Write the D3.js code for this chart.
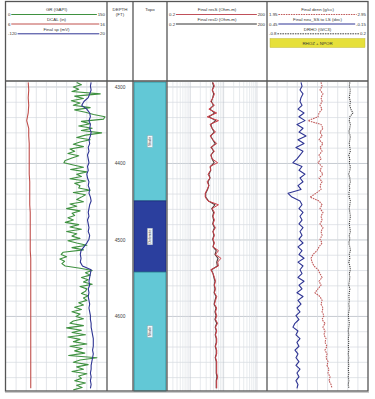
<!DOCTYPE html>
<html><head><meta charset="utf-8">
<script src="https://cdn.jsdelivr.net/npm/d3@7/dist/d3.min.js"></script>
<style>body{margin:0;background:#fff}svg{display:block;font-family:"Liberation Sans",Arial,sans-serif}</style>
</head><body><svg id="c" width="375" height="399"></svg>
<script>
// ---------- data ----------
const grDepth = d3.range(4294, 4697, 3);
const grValues = [105,112,100,108,98,140,102,115,97,110,
 100,125,102,118,130,147,145,112,125,108,
 128,112,142,118,105,125,110,100,115,95,
 102,92,108,98,88,86,100,115,96,120,
 105,112,95,118,102,110,108,125,100,118,
 112,105,115,95,105,90,110,98,102,92,
 100,88,108,95,112,90,105,98,110,92,
 105,120,98,115,85,82,90,80,87,83,
 88,110,128,118,125,112,122,115,128,110,
 120,118,112,122,115,120,108,115,102,112,
 98,110,104,115,100,95,115,90,112,98,
 118,92,110,100,120,95,113,102,117,93,
 135,110,100,122,105,115,98,120,108,112,
 102,118,105,113,100];
const logDepth = d3.range(4294, 4697, 5);
const spValues = [-2,-3,-2,-4,-6,-12,-15,-8,-4,-3,
 -5,-3,-4,-2,-3,-5,-4,-6,-5,-7,
 -6,-5,-7,-6,-8,-7,-5,-6,-4,-5,
 -3,-2,-4,-5,-6,-5,-7,-6,-5,-6,
 -4,-5,-8,-12,-16,-17,-16,-17,-14,-2,
 -3,-4,-5,-4,-6,-5,-6,-5,-4,-5,
 -4,-3,-3,-2,-2,-1,0,1,1,1,
 0,1,0,-1,-2,-2,-3,-2,-3,-2,
 -3];
const dcalDepth = d3.range(4294, 4697, 10);
const dcalValues = [8.2,8.25,8.2,8.25,8.2,8.05,8.25,8.25,8.3,8.3,
 8.3,8.3,8.3,8.35,8.35,8.35,8.35,8.4,8.4,8.4,
 8.4,8.4,8.4,8.45,8.45,8.45,8.45,8.45,8.45,8.45,
 8.45,8.45,8.45,8.45,8.45,8.45,8.45,8.45,8.45,8.45,8.45];
const resSValues = [4.8,5.3,4.5,5.3,4.8,4.1,5.3,3.6,6.2,3.2,
 7.0,3.9,4.5,5.7,3.9,4.8,6.2,4.1,5.3,4.1,
 4.5,6.6,3.9,4.1,3.4,3.9,3.2,3.6,3.2,2.8,
 2.8,3.4,7.0,4.5,5.3,4.8,5.3,4.8,5.7,4.8,
 5.3,4.8,5.3,4.8,7.0,5.7,8.3,6.6,7.0,4.1,
 4.8,5.3,5.7,5.3,5.7,5.3,6.2,5.7,5.3,6.2,
 5.7,6.2,5.7,6.6,5.7,6.2,5.7,6.2,6.2,5.7,
 6.2,6.2,5.7,6.2,6.2,6.2,6.2,6.6,6.2,6.2,
 6.2];
const resDValues = [4.6,5.0,4.6,5.0,4.7,4.3,4.9,3.9,5.4,3.6,
 5.8,4.1,4.5,5.2,4.1,4.7,5.6,4.3,5.0,4.2,
 4.5,5.2,4.0,4.1,3.6,3.9,3.4,3.6,3.3,2.9,
 2.9,3.5,5.5,4.4,5.0,4.7,5.0,4.7,5.3,4.8,
 5.1,4.7,5.1,4.8,6.0,5.5,6.8,6.2,6.5,4.3,
 4.8,5.1,5.5,5.2,5.5,5.2,5.9,5.5,5.2,5.9,
 5.5,5.9,5.5,6.2,5.6,6.0,5.6,6.0,6.0,5.6,
 6.0,6.0,5.6,6.0,6.0,6.0,6.0,6.3,6.0,6.0,
 6.0];
const denValues = [2.485,2.495,2.475,2.504,2.485,2.495,2.475,2.495,2.465,2.455,
 2.356,2.485,2.504,2.475,2.495,2.465,2.504,2.475,2.495,2.465,
 2.485,2.455,2.495,2.475,2.504,2.465,2.495,2.475,2.485,2.435,
 2.376,2.465,2.495,2.475,2.504,2.485,2.495,2.475,2.504,2.485,
 2.495,2.475,2.495,2.465,2.445,2.405,2.386,2.396,2.415,2.455,
 2.475,2.495,2.465,2.485,2.455,2.425,2.475,2.495,2.485,2.504,
 2.495,2.514,2.495,2.524,2.504,2.524,2.514,2.534,2.524,2.544,
 2.524,2.544,2.534,2.554,2.544,2.564,2.554,2.574,2.564,2.584,
 2.594];
const neuValues = [0.248,0.242,0.254,0.236,0.248,0.254,0.242,0.266,0.230,0.260,
 0.224,0.272,0.236,0.260,0.218,0.266,0.230,0.278,0.236,0.254,
 0.272,0.296,0.242,0.260,0.224,0.254,0.236,0.266,0.248,0.325,
 0.302,0.254,0.242,0.260,0.236,0.254,0.242,0.260,0.236,0.254,
 0.242,0.260,0.236,0.266,0.242,0.260,0.230,0.266,0.236,0.254,
 0.242,0.266,0.230,0.260,0.242,0.272,0.236,0.266,0.248,0.272,
 0.254,0.278,0.260,0.284,0.296,0.266,0.278,0.254,0.272,0.260,
 0.284,0.266,0.278,0.260,0.278,0.254,0.272,0.260,0.278,0.266,
 0.272];
const drhoValues = [0.020,0.015,0.025,0.020,0.015,0.025,0.020,0.030,0.050,0.020,
 0.015,0.025,0.020,0.010,0.025,0.020,0.015,0.020,0.025,0.010,
 0.020,0.015,0.025,0.020,0.010,0.020,0.025,0.015,0.020,0.010,
 0.015,0.025,0.020,0.015,0.020,0.025,0.020,0.015,0.020,0.025,
 0.015,0.020,0.010,0.020,0.025,0.015,0.020,0.010,0.020,0.025,
 0.015,0.020,0.015,0.010,0.020,0.015,0.010,0.015,0.010,0.015,
 0.010,0.005,0.010,0.015,0.010,0.005,0.010,0.005,0.010,0.005,
 0.010,0.005,0.010,0.005,0.010,0.005,0.010,0.005,0.010,0.005,
 0.010];
const depthTicks = [4300, 4400, 4500, 4600];
const topNames = ["Shale", "Dolomite", "Shale"];
const topTops = [4293.5, 4449, 4542];
const topBases = [4449, 4542, 4697.5];

// ---------- layout ----------
const svg = d3.select("#c");
const HB = 81, Y0 = 82, Y1 = 391;
const T1 = [6, 107], TD = [107, 133], TT = [133, 167], TR = [167, 267], TN = [267, 368];
const y = d3.scaleLinear().domain([4293.5, 4697.5]).range([Y0, Y1]);

const xGR = d3.scaleLinear().domain([0, 150]).range(T1);
const xCAL = d3.scaleLinear().domain([6, 16]).range(T1);
const xSP = d3.scaleLinear().domain([-120, 20]).range(T1);
const xRes = d3.scaleLog().domain([0.2, 200]).range(TR);
const xDen = d3.scaleLinear().domain([1.95, 2.95]).range(TN);
const xNeu = d3.scaleLinear().domain([0.45, -0.15]).range(TN);
const xDrho = d3.scaleLinear().domain([-0.8, 0.2]).range(TN);

svg.append("rect").attr("width", 375).attr("height", 399).attr("fill", "#fff");

// grid
const grid = svg.append("g");
const hLines = d3.range(4300, 4697, 20);
[T1, TR, TN].forEach(t => {
  grid.selectAll(null).data(hLines).join("line")
    .attr("x1", t[0]).attr("x2", t[1]).attr("y1", d => y(d)).attr("y2", d => y(d))
    .attr("stroke", d => d % 100 === 0 ? "#bfc5cc" : "#d6dae0").attr("stroke-width", d => d % 100 === 0 ? 0.9 : 0.7);
});
[[xGR, d3.range(15, 150, 15)], [xDen, d3.range(2.05, 2.9, 0.1)]].forEach(([s, vals]) => {
  grid.selectAll(null).data(vals).join("line")
    .attr("x1", d => s(d)).attr("x2", d => s(d)).attr("y1", Y0).attr("y2", Y1)
    .attr("stroke", "#d6dae0").attr("stroke-width", 0.7);
});
grid.selectAll(null).data(xRes.ticks().filter(v => v > 0.2 && v < 200)).join("line")
  .attr("x1", d => xRes(d)).attr("x2", d => xRes(d)).attr("y1", Y0).attr("y2", Y1)
  .attr("stroke", d => [1, 10, 100].includes(d) ? "#bfc5cc" : "#d9dde2").attr("stroke-width", 0.6);

// topo blocks
const tops = topNames.map((n, i) => ({n, t: topTops[i], b: topBases[i]}));
svg.selectAll(null).data(tops).join("rect")
  .attr("x", TT[0] + 1).attr("width", TT[1] - TT[0] - 2)
  .attr("y", d => y(d.t)).attr("height", d => y(d.b) - y(d.t))
  .attr("fill", (d, i) => i === 1 ? "#2b3f9e" : "#62c8d6")
  .attr("stroke", (d, i) => i === 1 ? "#1e2c78" : "#2a8a94").attr("stroke-width", 0.8);
const lab = svg.selectAll(null).data(tops).join("g")
  .attr("transform", d => `translate(${(TT[0] + TT[1]) / 2},${(y(d.t) + y(d.b)) / 2}) rotate(-90)`);
lab.append("text").attr("text-anchor", "middle").attr("y", 1.4).attr("font-size", 3.6).attr("fill", "#333").text(d => d.n)
  .each(function () {
    const w = this.getComputedTextLength();
    d3.select(this.parentNode).insert("rect", "text").attr("x", -w / 2 - 1.2).attr("y", -2.6).attr("width", w + 2.4).attr("height", 5.2)
      .attr("fill", "#f4f6f8").attr("stroke", "#8a9aa0").attr("stroke-width", 0.3);
  });

// curves
function curve(depths, vals, xs, color, w, dash) {
  const pts = depths.map((d, i) => [d, vals[i]]).filter(p => p[1] !== undefined);
  svg.append("path").datum(pts)
    .attr("d", d3.line().x(p => xs(p[1])).y(p => y(p[0])))
    .attr("fill", "none").attr("stroke", color).attr("stroke-width", w)
    .attr("stroke-dasharray", dash || null).attr("stroke-linejoin", "round");
}
curve(dcalDepth, dcalValues, xCAL, "#c0504d", 1.1);
curve(grDepth, grValues, xGR, "#3f9140", 1.1);
curve(logDepth, spValues, xSP, "#2f3594", 1.1);
curve(logDepth, resDValues, xRes, "#5a3a3a", 1.1);
curve(logDepth, resSValues, xRes, "#d0404a", 1.0);
curve(logDepth, neuValues, xNeu, "#2f3594", 1.1);
curve(logDepth, denValues, xDen, "#c05a5a", 1.1, "1.6,0.9");
curve(logDepth, drhoValues, xDrho, "#444", 1.1, "1.2,0.9");

// depth labels
svg.selectAll(null).data(depthTicks).join("text")
  .attr("x", (TD[0] + TD[1]) / 2).attr("y", d => y(d) + 1.7).attr("text-anchor", "middle")
  .attr("font-size", 4.8).attr("fill", "#444").text(d => d);

// header
const hdr = svg.append("g").attr("font-size", 4.4).attr("fill", "#333");
function hcurve(t, ly, title, lo, hi, color, dash) {
  const mid = (t[0] + t[1]) / 2;
  hdr.append("text").attr("x", mid).attr("y", ly - 3.2).attr("text-anchor", "middle").text(title);
  const l = hdr.append("text").attr("x", t[0] + 2).attr("y", ly + 1.5).text(lo);
  const r = hdr.append("text").attr("x", t[1] - 2).attr("y", ly + 1.5).attr("text-anchor", "end").text(hi);
  const wl = l.node().getComputedTextLength(), wr = r.node().getComputedTextLength();
  hdr.append("line").attr("x1", t[0] + 2 + wl + 0.8).attr("x2", t[1] - 2 - wr - 0.8).attr("y1", ly).attr("y2", ly)
    .attr("stroke", color).attr("stroke-width", 1).attr("stroke-dasharray", dash || null);
}
hcurve(T1, 14.5, "GR (GAPI)", "0", "150", "#3f9140");
hcurve(T1, 24, "DCAL (in)", "6", "16", "#c0504d");
hcurve(T1, 33.8, "Final sp (mV)", "-120", "20", "#2f3594");
hcurve(TR, 14.5, "Final resS (Ohm-m)", "0.2", "200", "#c0505a");
hcurve(TR, 24, "Final resD (Ohm-m)", "0.2", "200", "#333");
hcurve(TN, 14.5, "Final denn (g/cc)", "1.95", "2.95", "#c05a5a", "1.6,0.9");
hcurve(TN, 24, "Final neu_SS to LS (dec)", "0.45", "-0.15", "#2f3594");
hcurve(TN, 33.8, "DRHO (G/C3)", "-0.8", "0.2", "#444", "1.6,0.9");
hdr.append("text").attr("x", 120).attr("y", 10.5).attr("text-anchor", "middle").text("DEPTH");
hdr.append("text").attr("x", 120).attr("y", 16).attr("text-anchor", "middle").text("(FT)");
hdr.append("text").attr("x", 150).attr("y", 10.5).attr("text-anchor", "middle").text("Topo");
hdr.append("rect").attr("x", 270).attr("y", 38.5).attr("width", 95).attr("height", 9).attr("fill", "#e6e03a").attr("stroke", "#b8b030").attr("stroke-width", 0.4);
hdr.append("text").attr("x", 317.5).attr("y", 44.5).attr("text-anchor", "middle").text("RHOZ + NPOR");

// frame
const fr = svg.append("g").attr("stroke", "#555").attr("stroke-width", 1.3).attr("fill", "none");
fr.append("rect").attr("x", 5.5).attr("y", 1.5).attr("width", 362.5).attr("height", 389.5);
fr.append("line").attr("x1", 5.5).attr("x2", 368).attr("y1", HB).attr("y2", HB);
[T1[1], TD[1], TT[1], TR[1]].forEach(x => fr.append("line").attr("x1", x).attr("x2", x).attr("y1", 1.5).attr("y2", 391));
fr.append("line").attr("x1", 5).attr("x2", 369).attr("y1", 392.5).attr("y2", 392.5).attr("stroke", "#bbb").attr("stroke-width", 0.8);
</script></body></html>
